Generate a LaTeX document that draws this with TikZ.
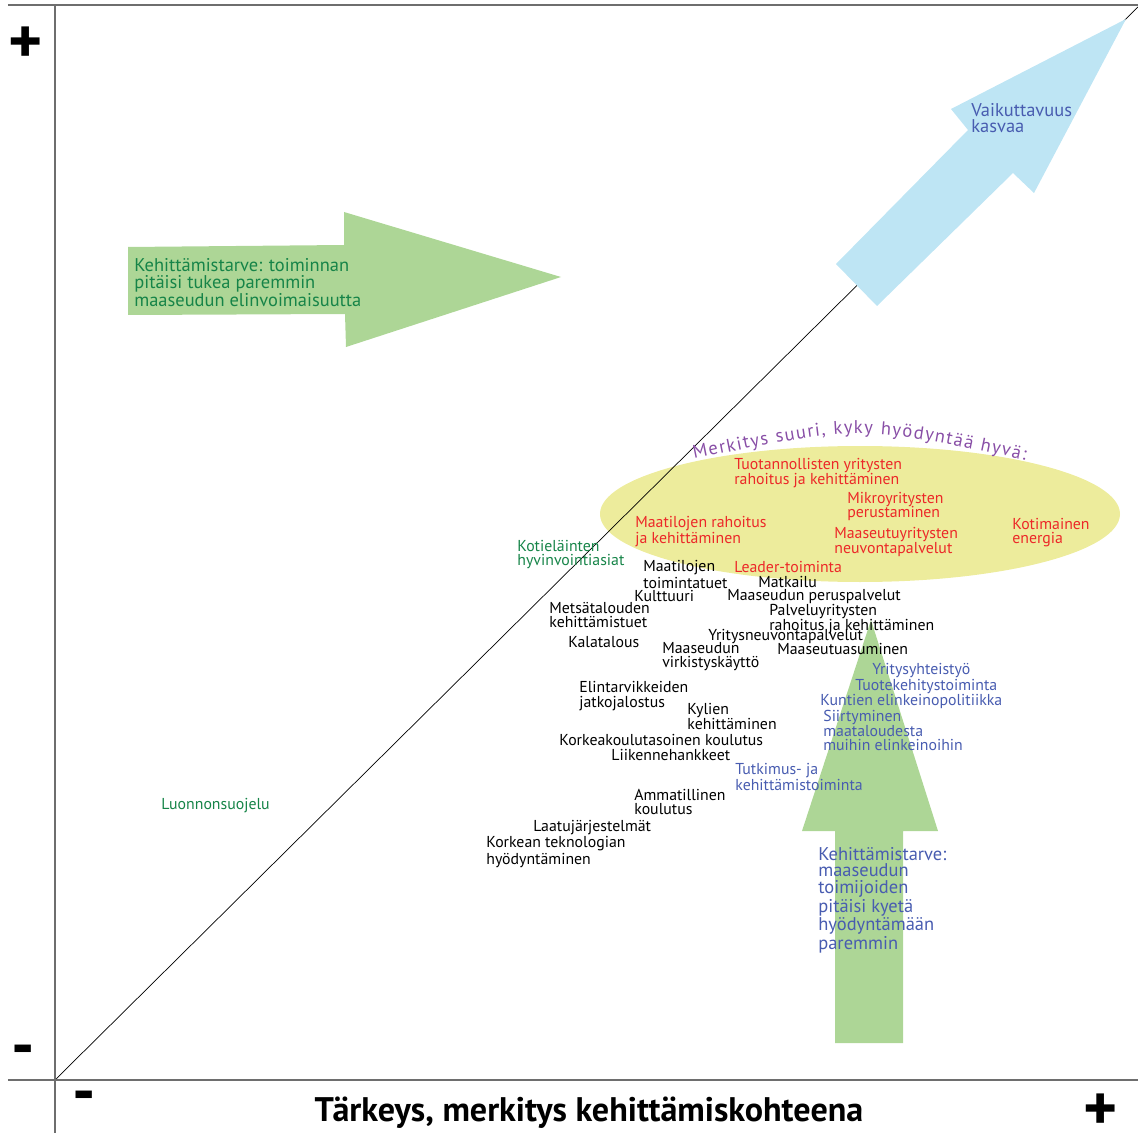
\documentclass[tikz,border=0pt]{standalone}
\usepackage{fontspec}
\setmainfont{PT Sans}
\usetikzlibrary{decorations.text}
\definecolor{axisgray}{RGB}{110,110,110}
\definecolor{arrowgreen}{RGB}{173,214,150}
\definecolor{arrowblue}{RGB}{190,229,244}
\definecolor{ellyellow}{RGB}{237,236,156}
\definecolor{txtred}{RGB}{236,40,40}
\definecolor{txtgreen}{RGB}{22,132,72}
\definecolor{txtblue}{RGB}{72,92,176}
\definecolor{txtpurple}{RGB}{136,78,166}
\begin{document}
\begin{tikzpicture}[scale=0.2]
                \tikzstyle{every node}+=[inner sep=0pt]
                \tikzstyle{lbl}=[anchor=west, align=left, font=\fontsize{9}{8.25}\selectfont]
                \tikzstyle{biglbl}=[anchor=west, align=left, font=\fontsize{10.5}{9.45}\selectfont]
                \tikzstyle{axis}=[draw=axisgray, line width=0.85pt]
                \tikzstyle{sign}=[font=\fontsize{37}{37}\selectfont\bfseries]
                \useasboundingbox (0,0) rectangle (113.8,-113.3);
                % axes
                \coordinate (tl) at (0.8,-0.5);
                \coordinate (tr) at (113.8,-0.5);
                \coordinate (ytop) at (5.5,-0.5);
                \coordinate (ybot) at (5.5,-113.3);
                \coordinate (xl) at (0.8,-108);
                \coordinate (xr) at (113.8,-108);
                \coordinate (O) at (5.5,-108);
                \coordinate (diag) at (113.8,-0.7);
                \fill [ellyellow] (86,-51.4) ellipse (26 and 6.8);
                \draw [black, line width=0.4pt] (O) -- (diag);
                \draw [axis] (tl) -- (tr);
                \draw [axis] (xl) -- (xr);
                \draw [axis] (ytop) -- (ybot);
                % arrows
                \fill [arrowgreen] (12.8,-24.7) -- (34.4,-24.5) -- (34.4,-21.2) -- (56.1,-27.7) -- (34.6,-34.7) -- (34.5,-31.4) -- (12.8,-31.5) -- cycle;
                \fill [arrowblue] (83.6,-26.4) -- (96.8,-13.0) -- (95.1,-10.9) -- (112.6,-1.9) -- (103.4,-19.3) -- (101.3,-17.3) -- (87.7,-30.6) -- cycle;
                \fill [arrowgreen] (83.5,-104.3) -- (83.5,-83.1) -- (80.2,-83.1) -- (87.1,-62.0) -- (93.8,-83.1) -- (90.3,-83.1) -- (90.3,-104.3) -- cycle;
                \path [decorate, decoration={text along path, text align={fit to path},
                  text={|\color{txtpurple}\fontsize{10.5}{10.5}\selectfont|Merkitys suuri, kyky hyödyntää hyvä:}}]
                  (69.4,-45.9) .. controls (86,-42.5) .. (102.5,-46.0);
                % signs and title
                \node [sign] (plustop) at (2.6,-4.5) {+};
                \node [sign] (plusright) at (110.1,-111.2) {+};
                \node [sign] (minusleft) at (2.35,-105.6) {-};
                \node [sign] (minusbot) at (8.45,-110.2) {-};
                \node [font=\fontsize{19.4}{19.4}\selectfont\bfseries] (title) at (58.9,-111.3) {Tärkeys, merkitys kehittämiskohteena};
                % arrow texts
                \node [biglbl, text=txtgreen] (needleft) at (13.4,-28.3) {Kehittämistarve: toiminnan\\pitäisi tukea paremmin\\maaseudun elinvoimaisuutta};
                \node [biglbl, text=txtblue] (vaik) at (97.1,-11.8) {Vaikuttavuus\\kasvaa};
                \node [biglbl, text=txtblue] (needup) at (81.8,-90.0) {Kehittämistarve:\\maaseudun\\toimijoiden\\pitäisi kyetä\\hyödyntämään\\paremmin};
                % red
                \node [lbl, text=txtred] (tuot) at (73.4,-47.3) {Tuotannollisten yritysten\\rahoitus ja kehittäminen};
                \node [lbl, text=txtred] (mikro) at (84.7,-50.65) {Mikroyritysten\\perustaminen};
                \node [lbl, text=txtred] (maatrah) at (63.5,-53.15) {Maatilojen rahoitus\\ja kehittäminen};
                \node [lbl, text=txtred] (maasyr) at (83.4,-54.2) {Maaseutuyritysten\\neuvontapalvelut};
                \node [lbl, text=txtred] (koti) at (101.2,-53.25) {Kotimainen\\energia};
                \node [lbl, text=txtred] (leader) at (73.4,-56.7) {Leader-toiminta};
                % green
                \node [lbl, text=txtgreen] (kotiel) at (51.7,-55.45) {Kotieläinten\\hyvinvointiasiat};
                \node [lbl, text=txtgreen] (luonto) at (16.1,-80.6) {Luonnonsuojelu};
                % black
                \node [lbl] (maatoim) at (64.3,-57.45) {Maatilojen\\toimintatuet};
                \node [lbl] (matk) at (75.8,-58.2) {Matkailu};
                \node [lbl] (kult) at (63.4,-59.6) {Kulttuuri};
                \node [lbl] (perus) at (72.7,-59.7) {Maaseudun peruspalvelut};
                \node [lbl] (metsa) at (54.9,-61.5) {Metsätalouden\\kehittämistuet};
                \node [lbl] (palvyr) at (76.9,-61.9) {Palveluyritysten\\rahoitus ja kehittäminen};
                \node [lbl] (yrneuv) at (70.8,-63.7) {Yritysneuvontapalvelut};
                \node [lbl] (kala) at (56.8,-64.2) {Kalatalous};
                \node [lbl] (virk) at (66.2,-65.65) {Maaseudun\\virkistyskäyttö};
                \node [lbl] (asum) at (77.7,-64.9) {Maaseutuasuminen};
                \node [lbl] (elint) at (57.9,-69.6) {Elintarvikkeiden\\jatkojalostus};
                \node [lbl] (kylien) at (68.7,-71.65) {Kylien\\kehittäminen};
                \node [lbl] (korkeak) at (55.9,-74.0) {Korkeakoulutasoinen koulutus};
                \node [lbl] (liik) at (61.1,-75.5) {Liikennehankkeet};
                \node [lbl] (amm) at (63.4,-80.2) {Ammatillinen\\koulutus};
                \node [lbl] (laatu) at (53.3,-82.8) {Laatujärjestelmät};
                \node [lbl] (korktek) at (48.6,-85.2) {Korkean teknologian\\hyödyntäminen};
                % blue
                \node [lbl, text=txtblue] (yrsyh) at (87.2,-67.1) {Yritysyhteistyö};
                \node [lbl, text=txtblue] (tuotekeh) at (85.5,-68.7) {Tuotekehitystoiminta};
                \node [lbl, text=txtblue] (kuntien) at (82.0,-70.1) {Kuntien elinkeinopolitiikka};
                \node [lbl, text=txtblue] (siirt) at (82.3,-73.07) {Siirtyminen\\maataloudesta\\muihin elinkeinoihin};
                \node [lbl, text=txtblue] (tutk) at (73.5,-77.7) {Tutkimus- ja\\kehittämistoiminta};
              \end{tikzpicture}
\end{document}
